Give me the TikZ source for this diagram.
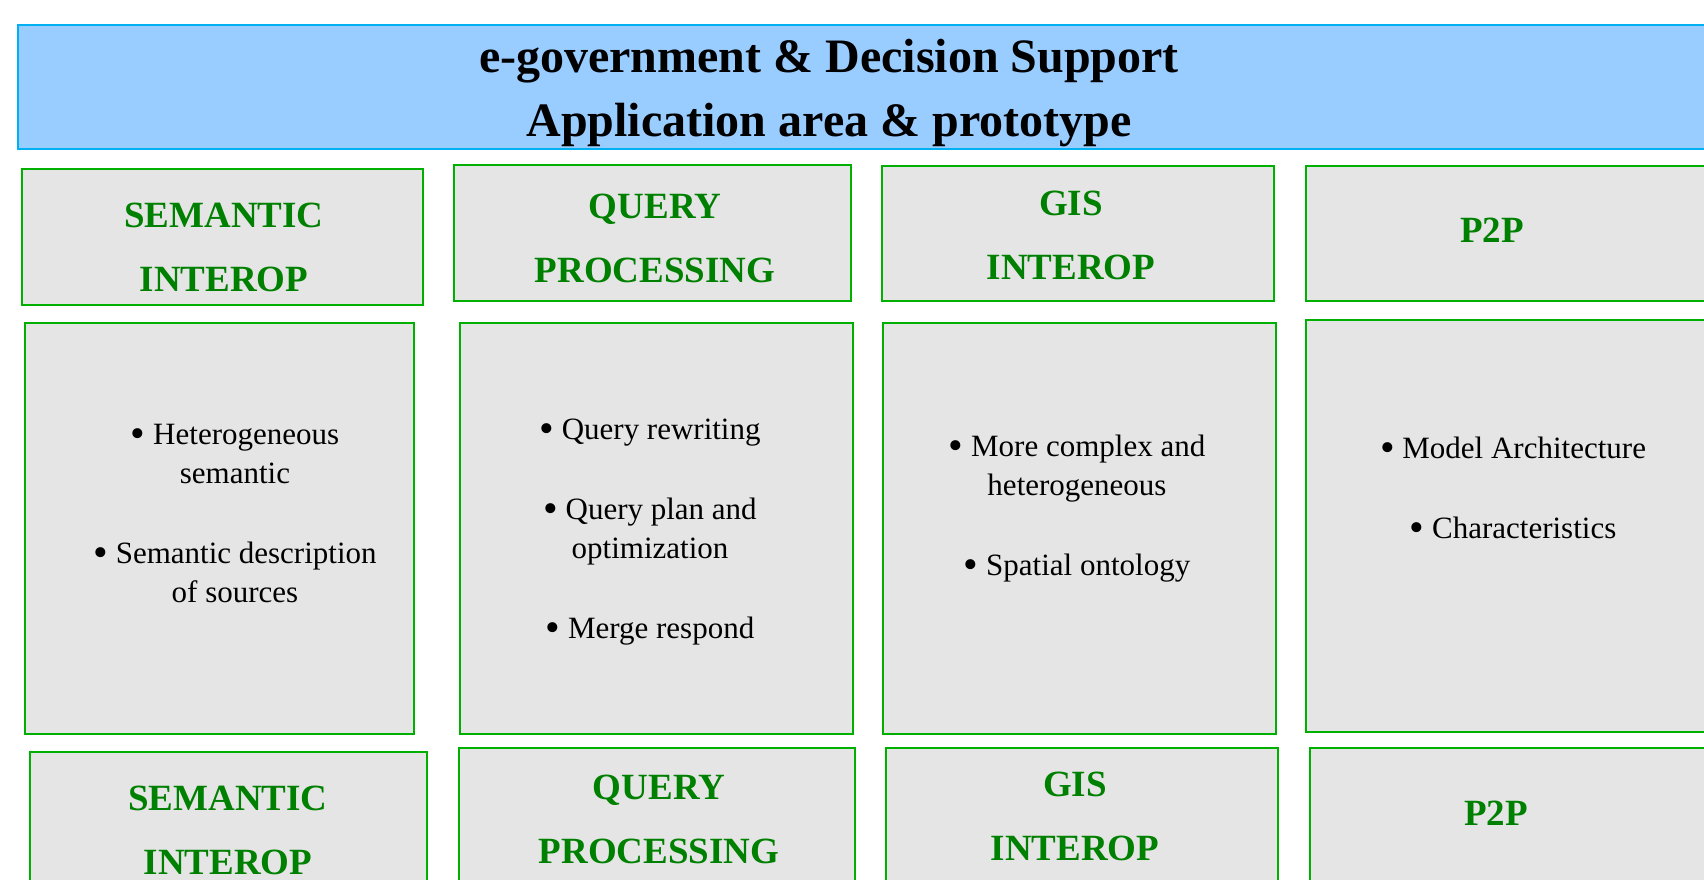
\documentclass[tikz,border=0pt]{standalone}
\usepackage{fontspec}
\usepackage{graphicx}
\setmainfont{Liberation Serif}
\definecolor{bannerfill}{HTML}{99CCFF}
\definecolor{bannerline}{HTML}{00B0F0}
\definecolor{boxfill}{HTML}{E5E5E5}
\definecolor{boxline}{HTML}{00B000}
\definecolor{hdrgreen}{HTML}{008000}
% a slightly heavier list bullet
\newcommand{\bul}{\raisebox{-0.12em}{\scalebox{1.35}{•}}}
\tikzset{
  banner/.style={draw=bannerline, fill=bannerfill, line width=2pt, anchor=north west, inner sep=0pt},
  panel/.style={draw=boxline, fill=boxfill, line width=1.8pt, anchor=north west, inner sep=0pt},
  % multi-line texts are placed by the baseline of their last line
  titletext/.style={font=\fontsize{48}{64}\selectfont\bfseries, align=center, anchor=base, inner sep=0pt},
  hdr/.style={font=\fontsize{37}{64}\selectfont\bfseries, text=hdrgreen, align=center, anchor=base, inner sep=0pt},
  item/.style={font=\fontsize{31}{39}\selectfont, align=center, anchor=base, inner sep=0pt}
}
\begin{document}
\begin{tikzpicture}[x=1pt,y=-1pt]
\useasboundingbox (0,0) rectangle (1704,879);
\clip (0,0) rectangle (1704,879);
\fill[white] (0,0) rectangle (1704,879);

% title banner
\node[banner, minimum width=1703pt, minimum height=124pt] (banner) at (17,24) {};
\node[titletext] (title) at (829,136) {e-government \& Decision Support\\Application area \& prototype};

% first row of headings
\node[panel, minimum width=401pt, minimum height=136pt] (b1) at (21,168) {};
\node[panel, minimum width=397pt, minimum height=136pt] (b2) at (453,164) {};
\node[panel, minimum width=392pt, minimum height=135pt] (b3) at (881,165) {};
\node[panel, minimum width=415pt, minimum height=135pt] (b4) at (1305,165) {};
\node[hdr] (b1t) at (224,291) {SEMANTIC\\INTEROP};
\node[hdr] (b2t) at (655,282) {QUERY\\PROCESSING};
\node[hdr] (b3t) at (1071,279) {GIS\\INTEROP};
\node[hdr] (b4t) at (1492,242) {P2P};

% content panels
\node[panel, minimum width=389pt, minimum height=411pt] (c1) at (24,322) {};
\node[panel, minimum width=393pt, minimum height=411pt] (c2) at (459,322) {};
\node[panel, minimum width=393pt, minimum height=411pt] (c3) at (882,322) {};
\node[panel, minimum width=416pt, minimum height=412pt] (c4) at (1305,319) {};

\node[item] (c1a) at (235,483) {\bul{} Heterogeneous\\semantic};
\node[item] (c1b) at (235,602) {\bul{} Semantic description\\of sources};

\node[item] (c2a) at (650,439) {\bul{} Query rewriting};
\node[item] (c2b) at (650,558) {\bul{} Query plan and\\optimization};
\node[item] (c2c) at (650,638) {\bul{} Merge respond};

\node[item] (c3a) at (1077,495) {\bul{} More complex and\\heterogeneous};
\node[item] (c3b) at (1077,575) {\bul{} Spatial ontology};

\node[item] (c4a) at (1513,458) {\bul{} Model Architecture};
\node[item] (c4b) at (1513,538) {\bul{} Characteristics};

% second row of headings
\node[panel, minimum width=397pt, minimum height=150pt] (d1) at (29,751) {};
\node[panel, minimum width=396pt, minimum height=150pt] (d2) at (458,747) {};
\node[panel, minimum width=392pt, minimum height=150pt] (d3) at (885,747) {};
\node[panel, minimum width=416pt, minimum height=150pt] (d4) at (1309,747) {};
\node[hdr] (d1t) at (228,874) {SEMANTIC\\INTEROP};
\node[hdr] (d2t) at (659,863) {QUERY\\PROCESSING};
\node[hdr] (d3t) at (1075,860) {GIS\\INTEROP};
\node[hdr] (d4t) at (1496,825) {P2P};
\end{tikzpicture}
\end{document}
